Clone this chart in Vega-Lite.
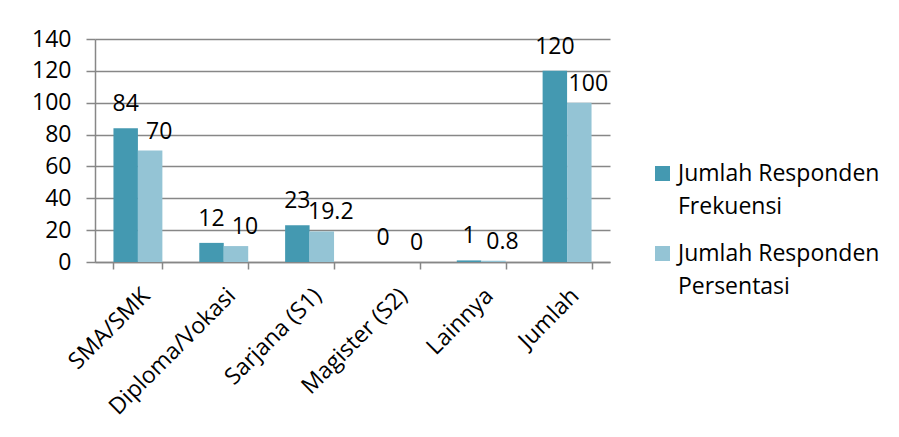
{
  "$schema": "https://vega.github.io/schema/vega-lite/v6.json",
  "width": 515,
  "height": 223,
  "autosize": "none",
  "padding": {"left": 95, "top": 39, "right": 289, "bottom": 175},
  "background": "white",
  "config": {
    "font": "Open Sans",
    "view": {"stroke": null},
    "style": {"guide-label": {"lineHeight": 33}}
  },
  "data": {
    "values": [
      {"kategori": "SMA/SMK", "seri": "Jumlah Responden Frekuensi", "nilai": 84},
      {"kategori": "SMA/SMK", "seri": "Jumlah Responden Persentasi", "nilai": 70},
      {"kategori": "Diploma/Vokasi", "seri": "Jumlah Responden Frekuensi", "nilai": 12},
      {"kategori": "Diploma/Vokasi", "seri": "Jumlah Responden Persentasi", "nilai": 10},
      {"kategori": "Sarjana (S1)", "seri": "Jumlah Responden Frekuensi", "nilai": 23},
      {"kategori": "Sarjana (S1)", "seri": "Jumlah Responden Persentasi", "nilai": 19.2},
      {"kategori": "Magister (S2)", "seri": "Jumlah Responden Frekuensi", "nilai": 0},
      {"kategori": "Magister (S2)", "seri": "Jumlah Responden Persentasi", "nilai": 0},
      {"kategori": "Lainnya", "seri": "Jumlah Responden Frekuensi", "nilai": 1},
      {"kategori": "Lainnya", "seri": "Jumlah Responden Persentasi", "nilai": 0.8},
      {"kategori": "Jumlah", "seri": "Jumlah Responden Frekuensi", "nilai": 120},
      {"kategori": "Jumlah", "seri": "Jumlah Responden Persentasi", "nilai": 100}
    ]
  },
  "encoding": {
    "x": {
      "field": "kategori", "type": "nominal", "sort": null,
      "scale": {"paddingInner": 0.43, "paddingOuter": 0.215},
      "axis": {
        "title": null, "labelAngle": -45, "labelFontSize": 23, "labelColor": "#000",
        "tickBand": "extent", "tickSize": 7, "tickColor": "#878787", "tickWidth": 1.5,
        "domainColor": "#878787", "domainWidth": 1.5, "labelPadding": 15
      }
    },
    "xOffset": {"field": "seri", "type": "nominal", "sort": null, "scale": {"paddingInner": 0}},
    "y": {
      "field": "nilai", "type": "quantitative",
      "scale": {"domain": [0, 140], "nice": false},
      "axis": {
        "title": null, "values": [0, 20, 40, 60, 80, 100, 120, 140],
        "labelFontSize": 23, "labelColor": "#000", "labelPadding": 15,
        "tickSize": 9, "tickColor": "#878787", "tickWidth": 1.5,
        "domainColor": "#878787", "domainWidth": 1.5,
        "grid": true, "gridColor": "#878787", "gridWidth": 1.5
      }
    }
  },
  "layer": [
    {
      "mark": {"type": "bar"},
      "encoding": {
        "color": {
          "field": "seri", "type": "nominal",
          "scale": {"domain": ["Jumlah Responden Frekuensi", "Jumlah Responden Persentasi"], "range": ["#4499B1", "#94C4D5"]},
          "legend": {
            "orient": "none", "legendX": 556, "legendY": 123, "title": null,
            "symbolType": "square", "symbolSize": 225, "symbolStrokeWidth": 0,
            "labelFontSize": 23, "labelColor": "#000", "labelLimit": 300, "rowPadding": 23, "labelOffset": 4,
            "labelExpr": "['Jumlah Responden', replace(datum.label, 'Jumlah Responden ', '')]"
          }
        }
      }
    },
    {
      "transform": [{"filter": "datum.seri == 'Jumlah Responden Frekuensi'"}],
      "mark": {"type": "text", "baseline": "alphabetic", "dy": -17, "fontSize": 23, "color": "#000"},
      "encoding": {"text": {"field": "nilai", "type": "quantitative"}}
    },
    {
      "transform": [{"filter": "datum.seri == 'Jumlah Responden Persentasi'"}],
      "mark": {"type": "text", "baseline": "alphabetic", "dy": -12, "dx": 9, "fontSize": 23, "color": "#000"},
      "encoding": {"text": {"field": "nilai", "type": "quantitative"}}
    }
  ]
}
